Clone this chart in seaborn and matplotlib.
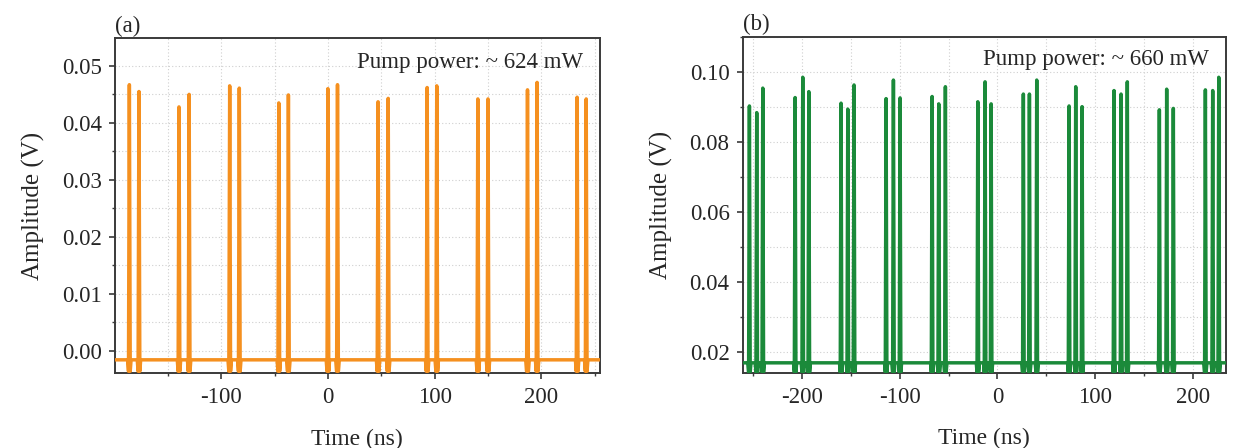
import numpy as np
import pandas as pd
import matplotlib
matplotlib.use("Agg")
import matplotlib.pyplot as plt
from matplotlib.ticker import MultipleLocator, FormatStrFormatter
import seaborn as sns

# ---- panel (a): dual-pulse bunches, pump ~624 mW ----
a_peak_times = [-186, -177, -139.5, -130, -92, -83, -46, -37, 0, 9,
                47, 56.5, 93, 102, 140.5, 150, 187, 196, 233.5, 242]
a_peak_heights = [0.0467, 0.0455, 0.0428, 0.0450, 0.0465, 0.0461,
                  0.0435, 0.0449, 0.0460, 0.0467, 0.0437, 0.0443,
                  0.0462, 0.0465, 0.0442, 0.0442, 0.0458, 0.0471,
                  0.0445, 0.0442]
a_baseline = -0.0016
a_ring_depth = 0.0020
a_xlim = (-199.5, 254.5)
a_ylim = (-0.0040, 0.0549)
a_label = "Pump power: ~ 624 mW"

# ---- panel (b): triple-pulse bunches, pump ~660 mW ----
b_peak_times = [-253.8, -246.3, -240.1, -207, -199.2, -193, -160, -153.1, -146.7,
                -113.9, -106.4, -99.6, -66.8, -60, -53.2, -20, -12.6, -6.4,
                26.6, 32.8, 40.3, 73.4, 80.2, 86.7, 119.4, 126.6, 133,
                165.8, 173.3, 180.1, 212.9, 220.4, 226.6]
b_peak_heights = [0.0902, 0.0883, 0.0953, 0.0926, 0.0984, 0.0943,
                  0.0910, 0.0893, 0.0962, 0.0923, 0.0976, 0.0925,
                  0.0929, 0.0908, 0.0957, 0.0914, 0.0971, 0.0908,
                  0.0936, 0.0936, 0.0976, 0.0902, 0.0957, 0.0900,
                  0.0946, 0.0936, 0.0971, 0.0891, 0.0950, 0.0895,
                  0.0948, 0.0946, 0.0984]
b_baseline = 0.0168
b_ring_depth = 0.0026
b_xlim = (-260.6, 234.0)
b_ylim = (0.0138, 0.1100)
b_label = "Pump power: ~ 660 mW"

ORANGE = "#F5901F"
GREEN = "#1B8A3A"


def trace(times, heights, base, ring, xlim):
    """Scope trace: flat baseline with a narrow spike (and ringing dips) per pulse."""
    t = [xlim[0]]
    v = [base]
    offs = [-1.6, -0.8, 0.0, 0.8, 1.6]
    for tp, h in zip(times, heights):
        vals = [base, base - ring, h, base - ring, base]
        t.extend(tp + o for o in offs)
        v.extend(vals)
    t.append(xlim[1])
    v.append(base)
    return pd.DataFrame({"Time (ns)": t, "Amplitude (V)": v})


sns.set_theme(style="ticks")
plt.rcParams["font.family"] = ["Liberation Serif", "DejaVu Serif"]

fig = plt.figure(figsize=(12.4, 4.48), dpi=100)
ax_a = fig.add_axes([0.0927, 0.1663, 0.3908, 0.7489])
ax_b = fig.add_axes([0.5990, 0.1667, 0.3897, 0.7514])

FS = 16.5
TEXT_C = "#262626"

panels = [
    (ax_a, trace(a_peak_times, a_peak_heights, a_baseline, a_ring_depth, a_xlim),
     ORANGE, a_xlim, a_ylim, 100, 50, 0.01, 0.005, "(a)", a_label, (0.966, 0.9255)),
    (ax_b, trace(b_peak_times, b_peak_heights, b_baseline, b_ring_depth, b_xlim),
     GREEN, b_xlim, b_ylim, 100, 50, 0.02, 0.01, "(b)", b_label, (0.965, 0.931)),
]

for ax, df, color, xl, yl, xmaj, xmin, ymaj, ymin, tag, note, npos in panels:
    sns.lineplot(data=df, x="Time (ns)", y="Amplitude (V)", ax=ax, color=color,
                 lw=2.5, estimator=None, sort=False, zorder=3)
    ax.set_xlim(*xl)
    ax.set_ylim(*yl)
    ax.xaxis.set_major_locator(MultipleLocator(xmaj))
    ax.xaxis.set_minor_locator(MultipleLocator(xmin))
    ax.yaxis.set_major_locator(MultipleLocator(ymaj))
    ax.yaxis.set_minor_locator(MultipleLocator(ymin))
    ax.yaxis.set_major_formatter(FormatStrFormatter("%.2f"))
    ax.xaxis.set_major_formatter(FormatStrFormatter("%d"))
    ax.grid(True, which="both", ls=(0, (1, 2)), lw=0.8, color="#cfcfcf", zorder=0)
    for s in ax.spines.values():
        s.set_color("#3a3a3a")
        s.set_linewidth(1.4)
    ax.tick_params(which="major", direction="out", length=4.5, width=1.2,
                   color="#3a3a3a", labelsize=FS, labelcolor=TEXT_C, pad=5)
    ax.tick_params(which="minor", direction="out", length=2.5, width=1.0,
                   color="#3a3a3a")
    ax.set_xlabel("Time (ns)", fontsize=FS + 0.5, color=TEXT_C, labelpad=15)
    ax.set_ylabel("Amplitude (V)", fontsize=FS + 1.5, color=TEXT_C, labelpad=12)
    ax.text(0.0, 1.004, tag, transform=ax.transAxes, ha="left", va="bottom",
            fontsize=FS, color=TEXT_C)
    ax.text(npos[0], npos[1], note, transform=ax.transAxes, ha="right",
            va="center", fontsize=FS, color=TEXT_C, zorder=5)

fig.savefig("out.png", dpi=100, facecolor="white")
